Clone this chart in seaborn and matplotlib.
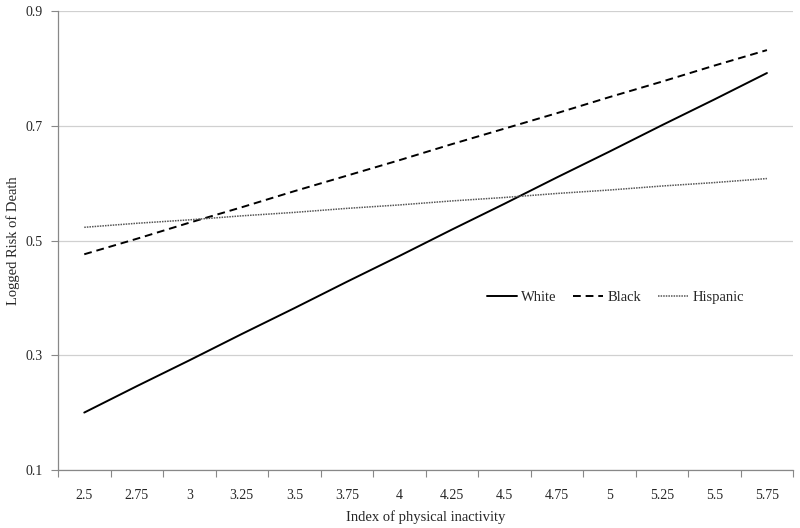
import pandas as pd
import seaborn as sns
import matplotlib.pyplot as plt
from matplotlib.ticker import FixedLocator

# Values
inactivity = ["2.5", "2.75", "3", "3.25", "3.5", "3.75", "4", "4.25",
              "4.5", "4.75", "5", "5.25", "5.5", "5.75"]
white = [0.200, 0.246, 0.291, 0.337, 0.382, 0.428, 0.473, 0.519,
         0.564, 0.610, 0.655, 0.701, 0.746, 0.792]
black = [0.476, 0.503, 0.531, 0.558, 0.586, 0.613, 0.640, 0.668,
         0.695, 0.722, 0.750, 0.777, 0.805, 0.832]
hispanic = [0.523, 0.530, 0.536, 0.543, 0.549, 0.556, 0.562, 0.569,
            0.575, 0.582, 0.588, 0.595, 0.601, 0.608]
y_ticks = [0.1, 0.3, 0.5, 0.7, 0.9]

df = pd.DataFrame({
    "pos": list(range(len(inactivity))) * 3,
    "risk": white + black + hispanic,
    "group": ["White"] * len(white) + ["Black"] * len(black) + ["Hispanic"] * len(hispanic),
})

sns.set_style("white")
plt.rcParams["font.family"] = ["Liberation Serif", "DejaVu Serif"]

fig = plt.figure(figsize=(8, 5.28), dpi=100)
ax = fig.add_axes([0.0725, 0.110, 0.919, 0.869])

# solid / dashed / dotted, as in the original
styles = {"White": (None, 1.4, "black"),
          "Black": ((4, 2.5), 1.4, "black"),
          "Hispanic": ((1, 0.7), 1.1, "#555555")}
for name, (dash, lw, col) in styles.items():
    sub = df[df["group"] == name]
    sns.lineplot(data=sub, x="pos", y="risk", ax=ax, color=col, lw=lw, label=name)
    if dash is not None:
        ax.lines[-1].set_dashes(dash)

ax.set_xlim(-0.5, len(inactivity) - 0.5)
ax.set_ylim(0.1, 0.9)
ax.set_xticks(range(len(inactivity)))
ax.set_xticklabels(inactivity, fontsize=10)
ax.xaxis.set_minor_locator(FixedLocator([i - 0.5 for i in range(len(inactivity) + 1)]))
ax.tick_params(axis="x", which="major", length=0, pad=14)
ax.tick_params(axis="x", which="minor", length=5, width=0.8, color="#888888", direction="out", bottom=True)
ax.set_yticks(y_ticks)
ax.set_yticklabels([f"{v:.1f}" for v in y_ticks], fontsize=10)
ax.tick_params(axis="y", length=5, width=0.8, color="#888888", direction="out", left=True, pad=6)

ax.yaxis.grid(True, color="#d0d0d0", lw=0.9)
ax.set_axisbelow(True)
for s in ["top", "right"]:
    ax.spines[s].set_visible(False)
for s in ["left", "bottom"]:
    ax.spines[s].set_color("#888888")
    ax.spines[s].set_linewidth(0.9)

ax.set_xlabel("Index of physical inactivity", fontsize=10.5, labelpad=6)
ax.set_ylabel("Logged Risk of Death", fontsize=10.5, labelpad=4)

ax.legend(loc="center", bbox_to_anchor=(0.758, 0.375), ncol=3, frameon=False,
          fontsize=10.5, handlelength=2.05, handletextpad=0.3, columnspacing=1.15)

fig.savefig("out.png", dpi=100)
